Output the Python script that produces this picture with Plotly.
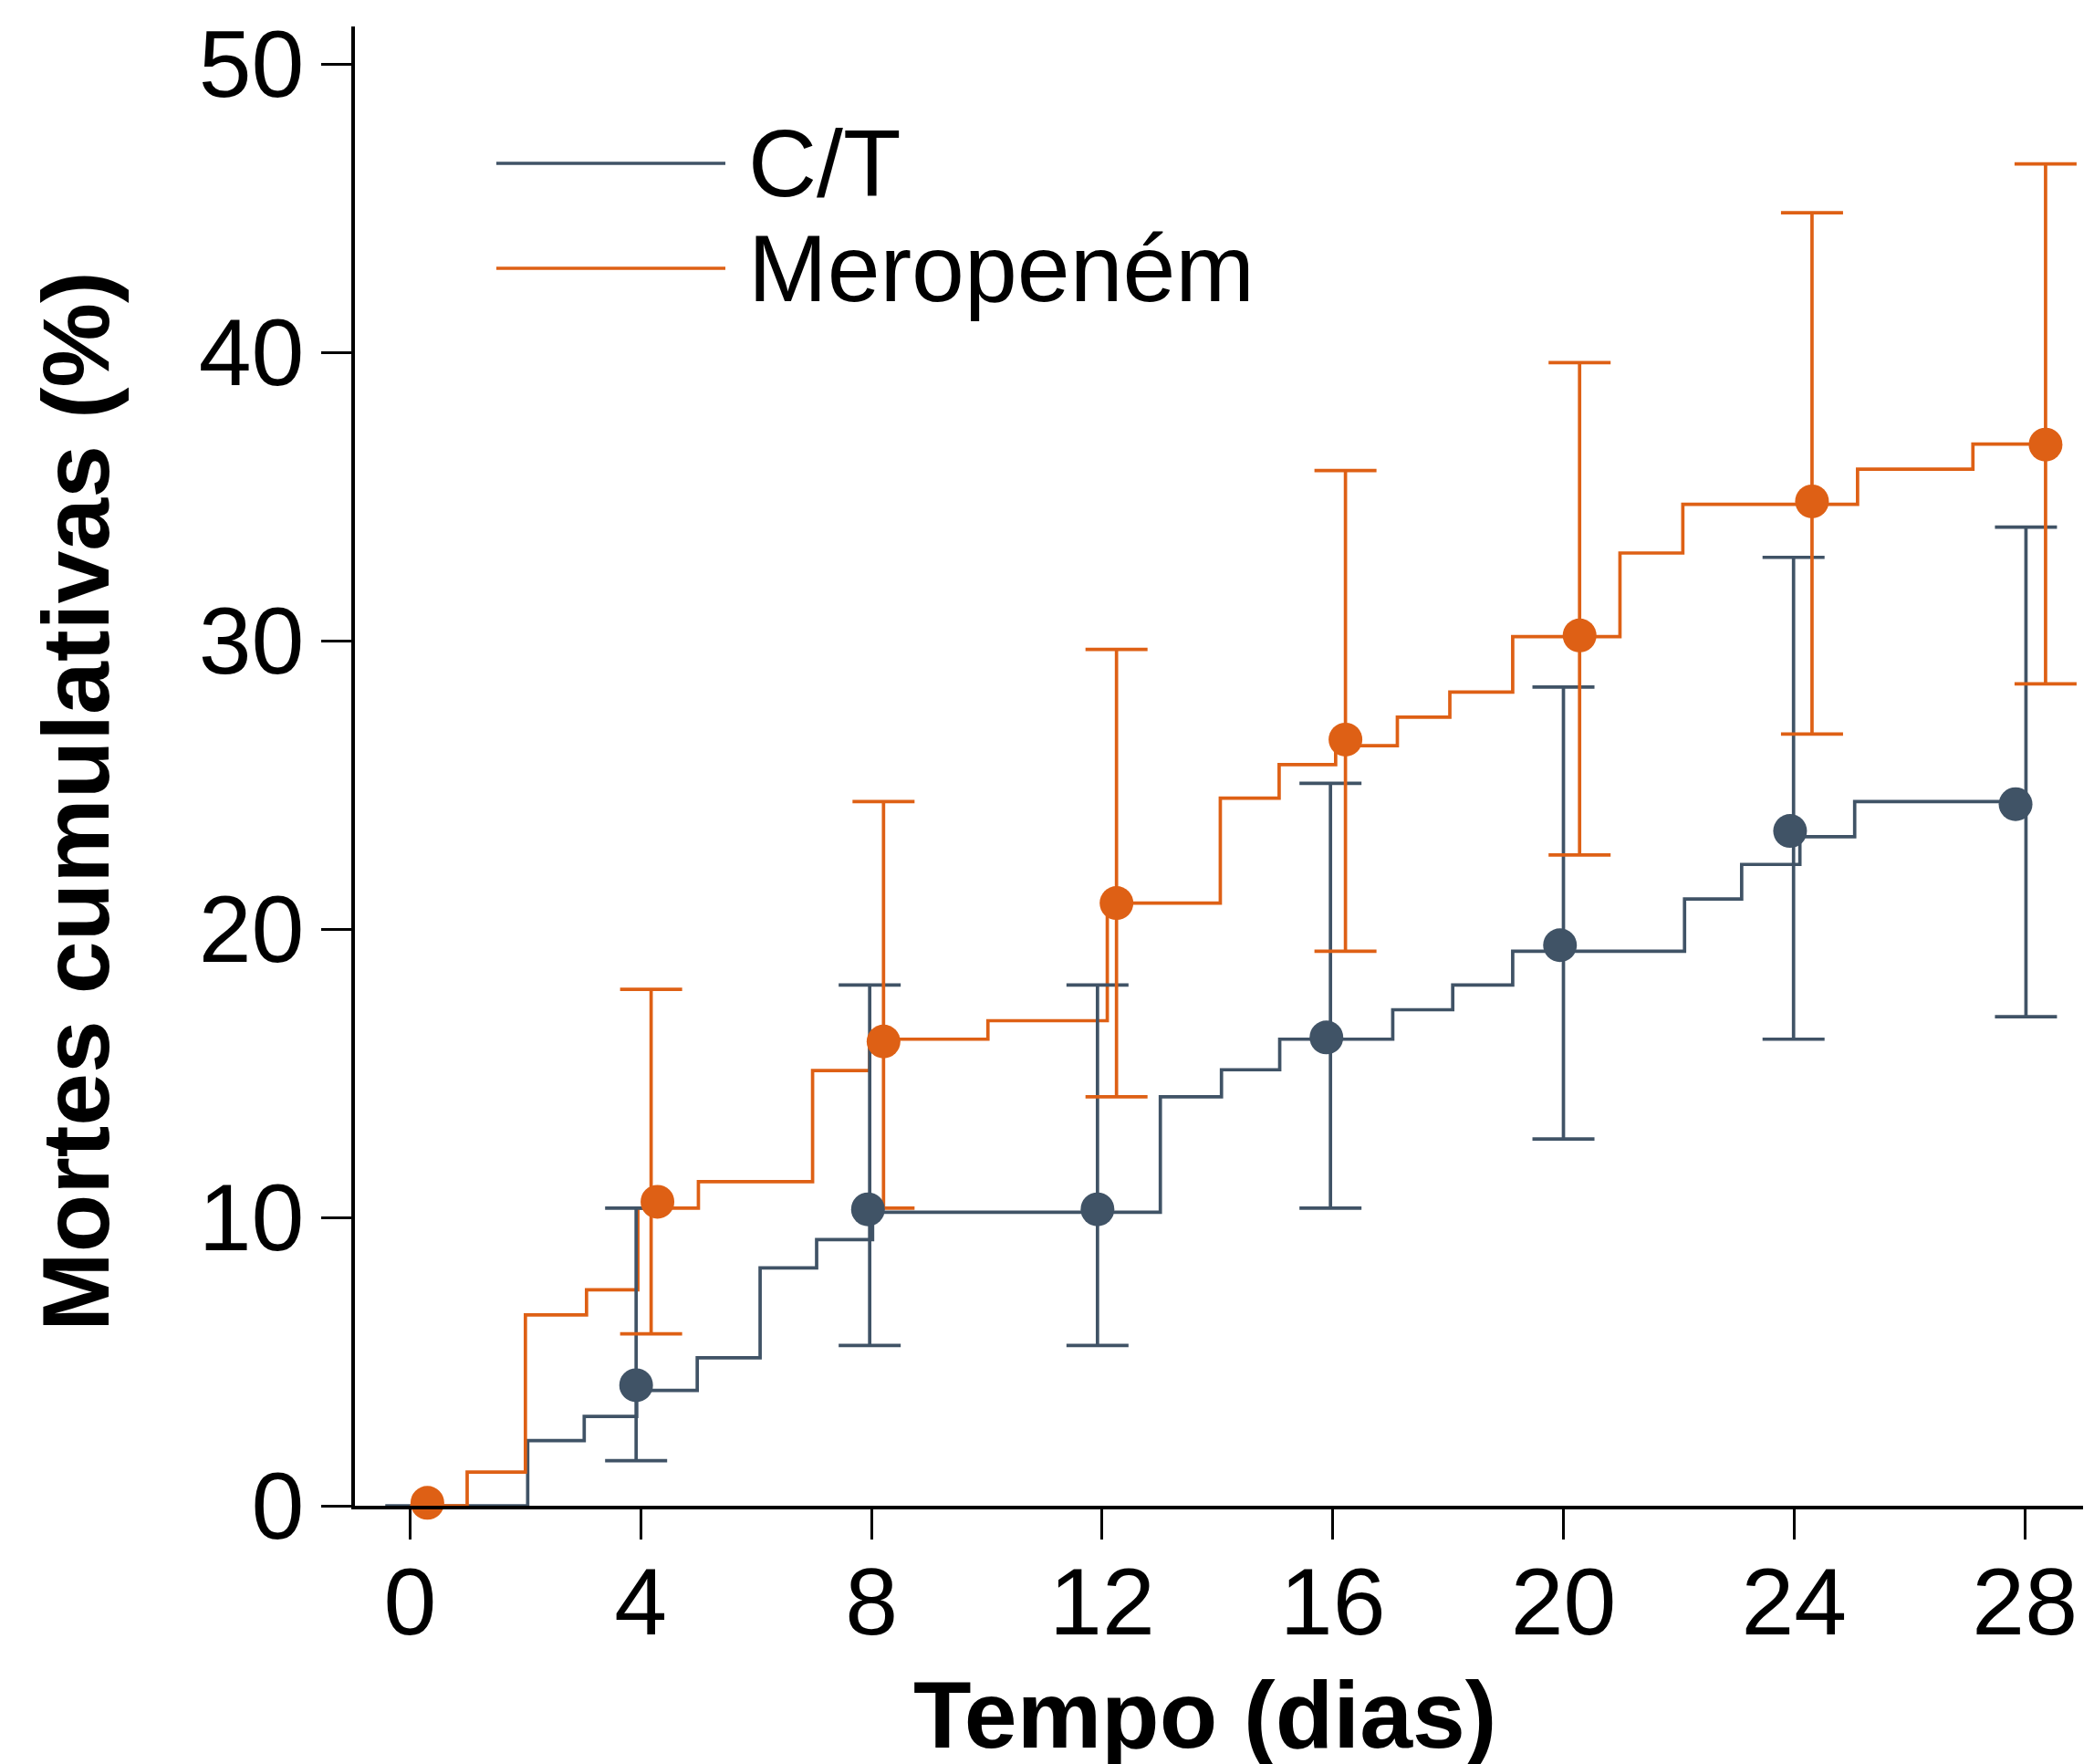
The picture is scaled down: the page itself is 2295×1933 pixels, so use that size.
import plotly.graph_objects as go

# ---------------- data ----------------
ct_step_days = [-0.43, 2.04, 3.02, 3.93, 4.98, 6.07, 7.05, 8.02, 13.01, 14.07, 15.08,
                17.04, 18.08, 19.12, 22.10, 23.09, 24.10, 25.05, 27.90]
ct_step_pct = [0, 2.26, 3.10, 4.00, 5.13, 8.25, 9.23, 10.18, 14.18, 15.12, 16.18,
               17.20, 18.06, 19.23, 21.04, 22.24, 23.20, 24.42, 24.42]

mero_step_days = [0.0, 0.99, 2.00, 3.06, 3.95, 5.00, 6.98, 7.97, 10.02, 12.09, 14.05,
                  15.07, 16.05, 17.12, 18.03, 19.12, 20.98, 22.07, 25.10, 27.10, 28.36]
mero_step_pct = [0, 1.17, 6.62, 7.49, 10.32, 11.24, 15.09, 16.18, 16.82, 20.90, 24.54,
                 25.70, 26.36, 27.35, 28.22, 30.14, 33.04, 34.73, 35.95, 36.82, 36.82]

ct_mark_day = [3.92, 7.94, 11.92, 15.89, 19.94, 23.93, 27.84]
ct_mark_pct = [4.18, 10.28, 10.28, 16.24, 19.44, 23.40, 24.33]
mero_mark_day = [0.30, 4.29, 8.21, 12.25, 16.22, 20.28, 24.31, 28.36]
mero_mark_pct = [0.10, 10.54, 16.10, 20.90, 26.57, 30.18, 34.83, 36.80]

ct_ci_day = [3.92, 7.97, 11.92, 15.96, 20.00, 23.99, 28.02]
ct_ci_low = [1.56, 5.56, 5.56, 10.32, 12.72, 16.18, 16.96]
ct_ci_high = [10.32, 18.06, 18.06, 25.05, 28.39, 32.89, 33.94]
mero_ci_day = [4.18, 8.21, 12.25, 16.22, 20.28, 24.31, 28.36]
mero_ci_low = [5.96, 10.32, 14.18, 19.23, 22.57, 26.76, 28.50]
mero_ci_high = [17.91, 24.42, 29.70, 35.90, 39.64, 44.84, 46.53]

series_names = ["C/T", "Meropeném"]
x_ticks = [0, 4, 8, 12, 16, 20, 24, 28]
y_ticks = [0, 10, 20, 30, 40, 50]
x_title = "Tempo (dias)"
y_title = "Mortes cumulativas (%)"

# ---------------- style ----------------
GRAY = "#405366"
ORANGE = "#DE6015"
FONT = "Liberation Sans, Arial, Helvetica, sans-serif"
FS = 104
W, H = 2295, 1933
ML, MR, MT, MB = 389, 12, 29, 283
PW = W - ML - MR
PH = H - MT - MB

fig = go.Figure()

# step lines
fig.add_trace(go.Scatter(x=ct_step_days, y=ct_step_pct, mode="lines",
                         line=dict(color=GRAY, width=3.7, shape="hv"),
                         name=series_names[0], showlegend=False))
fig.add_trace(go.Scatter(x=mero_step_days, y=mero_step_pct, mode="lines",
                         line=dict(color=ORANGE, width=3.7, shape="hv"),
                         name=series_names[1], showlegend=False))

# error bars
ct_center = ct_mark_pct
mero_center = mero_mark_pct[1:]
fig.add_trace(go.Scatter(
    x=ct_ci_day, y=ct_center, mode="markers",
    marker=dict(size=1, color="rgba(0,0,0,0)"),
    error_y=dict(type="data", symmetric=False,
                 array=[h - c for h, c in zip(ct_ci_high, ct_center)],
                 arrayminus=[c - l for l, c in zip(ct_ci_low, ct_center)],
                 color=GRAY, thickness=3.7, width=34),
    showlegend=False, hoverinfo="skip"))
fig.add_trace(go.Scatter(
    x=mero_ci_day, y=mero_center, mode="markers",
    marker=dict(size=1, color="rgba(0,0,0,0)"),
    error_y=dict(type="data", symmetric=False,
                 array=[h - c for h, c in zip(mero_ci_high, mero_center)],
                 arrayminus=[c - l for l, c in zip(mero_ci_low, mero_center)],
                 color=ORANGE, thickness=3.7, width=34),
    showlegend=False, hoverinfo="skip"))

# markers
fig.add_trace(go.Scatter(x=ct_mark_day, y=ct_mark_pct, mode="markers",
                         marker=dict(size=37, color=GRAY), cliponaxis=False,
                         showlegend=False))
fig.add_trace(go.Scatter(x=mero_mark_day, y=mero_mark_pct, mode="markers",
                         marker=dict(size=37, color=ORANGE), cliponaxis=False,
                         showlegend=False))


def px_x(p):
    return (p - ML) / PW


def px_y(p):
    return (H - MB - p) / PH


# manual legend
legend_y_px = [179, 294]
legend_colors = [GRAY, ORANGE]
for name, ypx, col in zip(series_names, legend_y_px, legend_colors):
    fig.add_shape(type="line", xref="paper", yref="paper",
                  x0=px_x(544), x1=px_x(795), y0=px_y(ypx), y1=px_y(ypx),
                  line=dict(color=col, width=3.7))
    fig.add_annotation(x=px_x(818), y=px_y(ypx), xref="paper", yref="paper",
                       text=name, showarrow=False, xanchor="left", yanchor="middle",
                       font=dict(family=FONT, size=FS, color="black"))

# axis titles
fig.add_annotation(x=px_x(1320), y=px_y(1879), xref="paper", yref="paper",
                   text="<b>" + x_title + "</b>", showarrow=False,
                   xanchor="center", yanchor="middle",
                   font=dict(family=FONT, size=FS, color="black"))
fig.add_annotation(x=px_x(83), y=px_y(878), xref="paper", yref="paper",
                   text="<b>" + y_title + "</b>", showarrow=False, textangle=-90,
                   xanchor="center", yanchor="middle",
                   font=dict(family=FONT, size=FS, color="black"))

axis_common = dict(showline=True, linecolor="black", linewidth=3.6, ticks="outside",
                   ticklen=33, tickwidth=3.4, tickcolor="black", showgrid=False,
                   zeroline=False, mirror=False,
                   tickfont=dict(family=FONT, size=FS, color="black"))

fig.update_layout(
    width=W, height=H, autosize=False,
    margin=dict(l=ML, r=MR, t=MT, b=MB, pad=0),
    paper_bgcolor="white", plot_bgcolor="white",
    xaxis=dict(range=[-0.956, 29.01], tickvals=x_ticks,
               ticktext=[str(v) for v in x_ticks], ticklabelstandoff=-21, **axis_common),
    yaxis=dict(range=[0, 51.3], tickvals=y_ticks,
               ticktext=[str(v) for v in y_ticks], ticklabelstandoff=-2, **axis_common),
    showlegend=False,
)

fig.write_html("out.html",
               config={"displayModeBar": False},
               post_script="document.body.style.margin='0';document.body.style.overflow='hidden';")
